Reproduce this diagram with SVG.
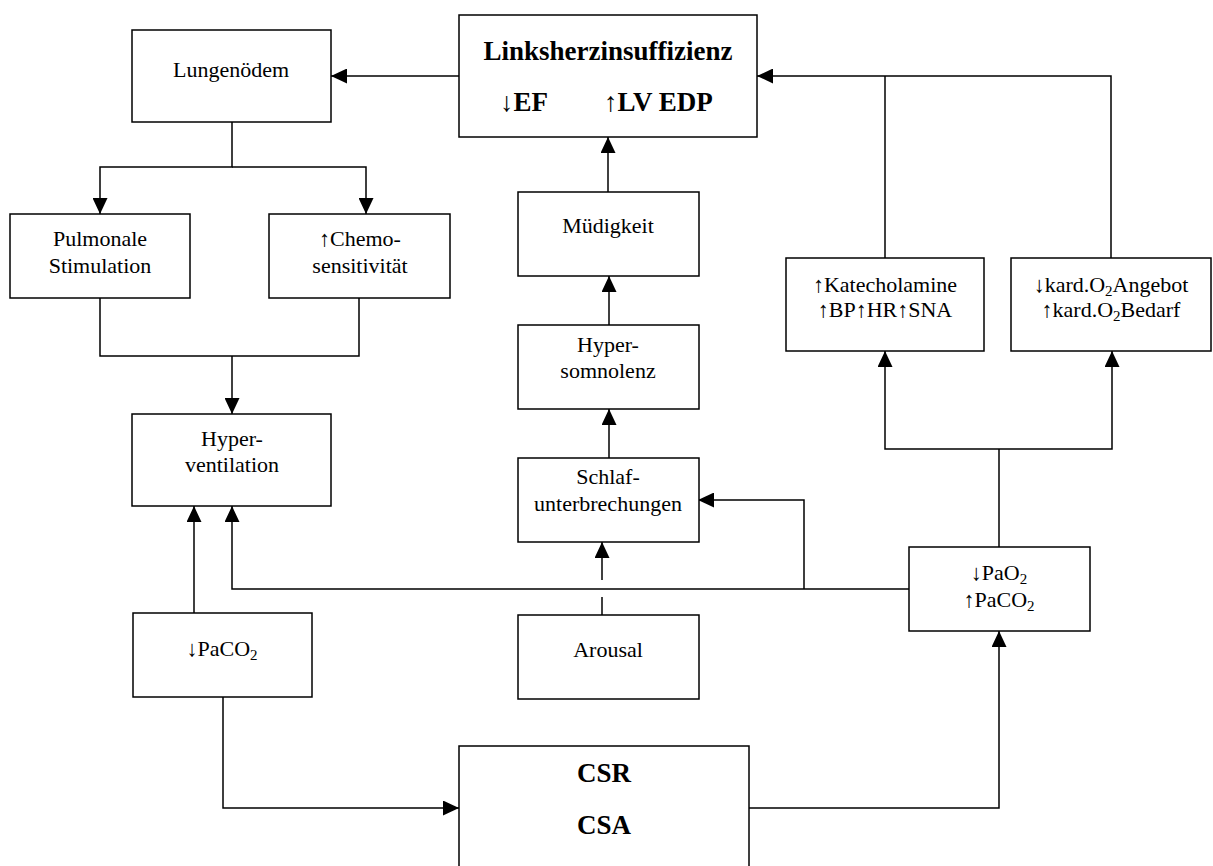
<svg xmlns="http://www.w3.org/2000/svg" width="1213" height="866" viewBox="0 0 1213 866">
<style>
.box{fill:#fff;stroke:#000;stroke-width:1.5}
.t{font-family:"Liberation Serif","Times New Roman",serif;font-size:22px;fill:#000;text-anchor:middle}
.b{font-family:"Liberation Serif","Times New Roman",serif;font-size:27px;font-weight:bold;fill:#000}
.c{fill:none;stroke:#000;stroke-width:1.5}
</style>
<defs>
<marker id="ah" markerUnits="userSpaceOnUse" markerWidth="16" markerHeight="15" refX="16" refY="7.5" orient="auto">
<path d="M0,0 L16,7.5 L0,15 z" fill="#000"/>
</marker>
</defs>
<rect width="1213" height="866" fill="#fff"/>
<g id="connectors">
<path class="c" d="M459,76 H331" marker-end="url(#ah)"/>
<path class="c" d="M232,122 V167 H100 V214" marker-end="url(#ah)"/>
<path class="c" d="M232,167 H366 V214" marker-end="url(#ah)"/>
<path class="c" d="M100,298 V356 H359 V298"/>
<path class="c" d="M232,356 V414" marker-end="url(#ah)"/>
<path class="c" d="M608,192 V137" marker-end="url(#ah)"/>
<path class="c" d="M609,325 V276" marker-end="url(#ah)"/>
<path class="c" d="M609,458 V409" marker-end="url(#ah)"/>
<path class="c" d="M602,615 V597"/>
<path class="c" d="M602,580 V542" marker-end="url(#ah)"/>
<path class="c" d="M909,589 H232 V506" marker-end="url(#ah)"/>
<path class="c" d="M804,589 V500 H698" marker-end="url(#ah)"/>
<path class="c" d="M194,613 V506" marker-end="url(#ah)"/>
<path class="c" d="M223,697 V808 H459" marker-end="url(#ah)"/>
<path class="c" d="M749,808 H999 V631" marker-end="url(#ah)"/>
<path class="c" d="M999,547 V449"/>
<path class="c" d="M999,449 H885 V351" marker-end="url(#ah)"/>
<path class="c" d="M999,449 H1112 V351" marker-end="url(#ah)"/>
<path class="c" d="M885,258 V76"/>
<path class="c" d="M1111,258 V76 H757" marker-end="url(#ah)"/>
</g>
<g id="linksherz">
<rect class="box" x="459" y="15" width="298" height="122"/>
<text class="b" x="608" y="60" text-anchor="middle">Linksherzinsuffizienz</text>
<text class="b" x="500" y="111">↓EF</text>
<text class="b" x="604" y="111">↑LV EDP</text>
</g>
<g id="lungenoedem">
<rect class="box" x="132" y="30" width="199" height="92"/>
<text class="t" x="231" y="77">Lungenödem</text>
</g>
<g id="pulmonale">
<rect class="box" x="10" y="214" width="180" height="84"/>
<text class="t" x="100" y="246">Pulmonale</text>
<text class="t" x="100" y="273">Stimulation</text>
</g>
<g id="chemo">
<rect class="box" x="269" y="214" width="181" height="84"/>
<text class="t" x="360" y="246">↑Chemo-</text>
<text class="t" x="360" y="273">sensitivität</text>
</g>
<g id="hyperventilation">
<rect class="box" x="132" y="414" width="199" height="92"/>
<text class="t" x="232" y="446">Hyper-</text>
<text class="t" x="232" y="472">ventilation</text>
</g>
<g id="muedigkeit">
<rect class="box" x="518" y="192" width="181" height="84"/>
<text class="t" x="608" y="233">Müdigkeit</text>
</g>
<g id="hypersomnolenz">
<rect class="box" x="518" y="325" width="181" height="84"/>
<text class="t" x="608" y="352">Hyper-</text>
<text class="t" x="608" y="378">somnolenz</text>
</g>
<g id="schlaf">
<rect class="box" x="518" y="458" width="181" height="84"/>
<text class="t" x="608" y="484">Schlaf-</text>
<text class="t" x="608" y="511">unterbrechungen</text>
</g>
<g id="arousal">
<rect class="box" x="518" y="615" width="181" height="84"/>
<text class="t" x="608" y="657">Arousal</text>
</g>
<g id="paco2-low">
<rect class="box" x="133" y="613" width="179" height="84"/>
<text class="t" x="222" y="656">↓PaCO<tspan font-size="15" dy="4">2</tspan></text>
</g>
<g id="pao2">
<rect class="box" x="909" y="547" width="181" height="84"/>
<text class="t" x="999" y="580">↓PaO<tspan font-size="15" dy="4">2</tspan></text>
<text class="t" x="999" y="607">↑PaCO<tspan font-size="15" dy="4">2</tspan></text>
</g>
<g id="katecholamine">
<rect class="box" x="786" y="258" width="198" height="93"/>
<text class="t" x="885" y="292">↑Katecholamine</text>
<text class="t" x="885" y="317">↑BP↑HR↑SNA</text>
</g>
<g id="kard">
<rect class="box" x="1011" y="258" width="200" height="93"/>
<text class="t" x="1111" y="292">↓kard.O<tspan font-size="15" dy="4">2</tspan><tspan dy="-4">Angebot</tspan></text>
<text class="t" x="1111" y="317">↑kard.O<tspan font-size="15" dy="4">2</tspan><tspan dy="-4">Bedarf</tspan></text>
</g>
<g id="csr">
<rect class="box" x="459" y="746" width="290" height="140"/>
<text class="b" x="604" y="782" text-anchor="middle">CSR</text>
<text class="b" x="604" y="834" text-anchor="middle">CSA</text>
</g>
</svg>
